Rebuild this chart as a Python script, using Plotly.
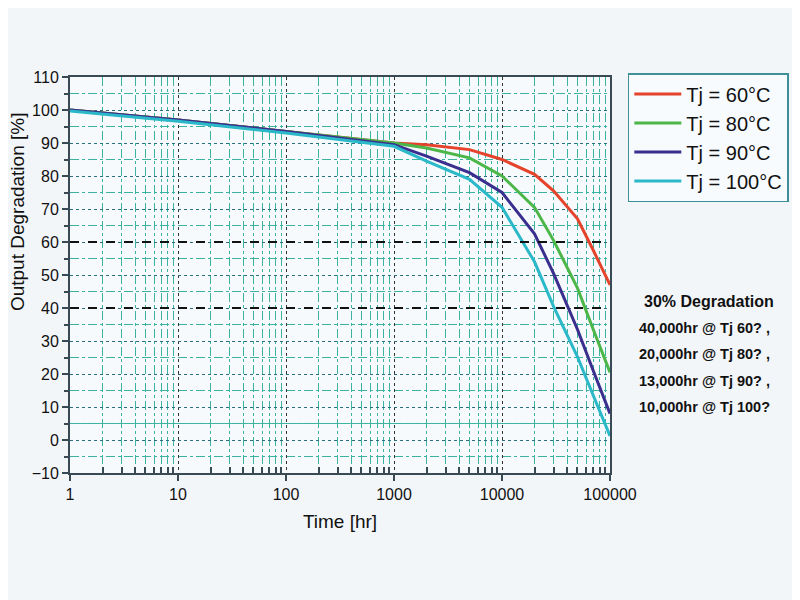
import plotly.graph_objects as go

hours = [1, 10, 100, 1000, 2000, 5000, 10000, 20000, 30000, 50000, 70000, 100000]
tj60 = [100, 97, 93.5, 90, 89.5, 88, 85, 80.5, 75.5, 67, 57.5, 47]
tj80 = [100, 97, 93.5, 90, 88.5, 85.5, 80, 70.5, 60.5, 46, 33.5, 20.5]
tj90 = [100, 97, 93.5, 89.5, 86, 81, 75, 62.5, 50.5, 33.5, 21, 8]
tj100 = [99.7, 96.6, 93, 89, 84.5, 79, 70.5, 54, 40.5, 25.2, 13.5, 1.2]
series_names = ["Tj = 60°C", "Tj = 80°C", "Tj = 90°C", "Tj = 100°C"]
series_colors = ["#e5432c", "#4cb649", "#3a2f8e", "#2bb8c9"]
ref_levels = [60, 40]
x_ticks = [1, 10, 100, 1000, 10000, 100000]
x_tick_labels = ["1", "10", "100", "1000", "10000", "100000"]
notes_title = "30% Degradation"
notes = ["40,000hr @ Tj 60? ,", "20,000hr @ Tj 80? ,", "13,000hr @ Tj 90? ,", "10,000hr @ Tj 100?"]

minor_x = [m * 10 ** d for d in range(5) for m in range(2, 10)]

fig = go.Figure()
for name, ys, col in zip(series_names, [tj60, tj80, tj90, tj100], series_colors):
    fig.add_trace(go.Scatter(x=hours, y=ys, mode="lines", name=name,
                             line=dict(color=col, width=3)))

for lv in ref_levels:
    fig.add_shape(type="line", xref="paper", x0=0, x1=1, yref="y", y0=lv, y1=lv,
                  line=dict(color="#111111", width=2, dash="dash"), layer="above")
fig.add_shape(type="line", xref="paper", x0=0, x1=1, yref="y", y0=5, y1=5,
              line=dict(color="#3fb8a8", width=1.2), layer="below")

fig.add_annotation(text="<b>" + notes_title + "</b>", xref="paper", yref="paper",
                   x=1.183, y=0.434, xanchor="center", yanchor="middle", showarrow=False,
                   font=dict(family="Liberation Sans", size=16, color="#111111"))
for i, t in enumerate(notes):
    fig.add_annotation(text="<b>" + t + "</b>", xref="paper", yref="paper",
                       x=1.050, y=0.366 - i * 0.0665, xanchor="left", yanchor="middle",
                       showarrow=False,
                       font=dict(family="Liberation Sans", size=14.5, color="#111111"))

fig.add_annotation(text="Output Degradation [%]", xref="paper", yref="paper",
                   x=-0.098, y=0.659, xanchor="center", yanchor="middle", textangle=-90,
                   showarrow=False,
                   font=dict(family="Liberation Sans", size=19, color="#111111"))

axis_common = dict(showline=True, linecolor="#3a4a55", linewidth=2, mirror=True,
                   tickfont=dict(family="Liberation Sans", size=16, color="#111111"),
                   zeroline=False)

fig.update_xaxes(type="log", range=[0, 5], tickvals=x_ticks, ticktext=x_tick_labels,
                 ticks="outside", ticklen=6, tickcolor="#3a4a55", tickwidth=1.5,
                 showgrid=True, gridcolor="#333333", griddash="dot", gridwidth=1,
                 minor=dict(tickvals=minor_x, ticks="inside", ticklen=6, tickcolor="#3a4a55",
                            showgrid=True, gridcolor="#3bb3a0", griddash="dashdot", gridwidth=1),
                 title=dict(text="Time [hr]", font=dict(family="Liberation Sans", size=19, color="#111111"),
                            standoff=12),
                 **axis_common)
fig.update_yaxes(range=[-10, 110], dtick=10, tick0=0,
                 ticks="outside", ticklen=6, tickcolor="#3a4a55", tickwidth=1.5,
                 showgrid=True, gridcolor="#2a6f80", griddash="dot", gridwidth=1,
                 minor=dict(dtick=5, ticks="outside", ticklen=4, tickcolor="#3a4a55",
                            showgrid=True, gridcolor="#3bb3a0", griddash="dashdot", gridwidth=1),
                 **axis_common)

fig.update_layout(
    width=800, height=600,
    margin=dict(l=62, r=198, t=69, b=135),
    paper_bgcolor="#f3f6f9", plot_bgcolor="#f7fafc",
    showlegend=True,
    legend=dict(x=1.033, y=1.01, xanchor="left", yanchor="top",
                bgcolor="#f8fbfd", bordercolor="#3f8f99", borderwidth=1.5,
                font=dict(family="Liberation Sans", size=20, color="#111111"),
                itemwidth=47, tracegroupgap=0),
)

fig.write_html("out.html")
